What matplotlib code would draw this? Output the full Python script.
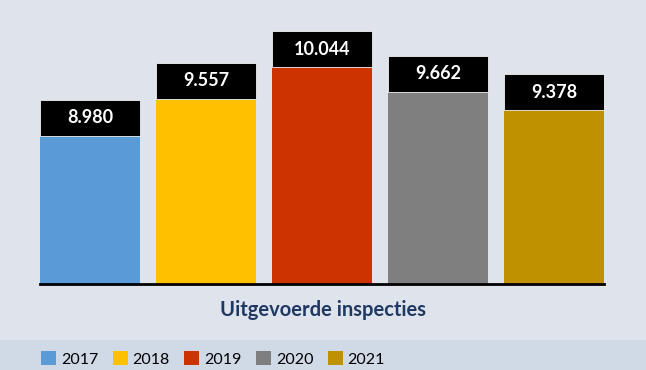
import matplotlib.pyplot as plt
from matplotlib.patches import Rectangle, Patch
import numpy as np

years = ['2017', '2018', '2019', '2020', '2021']
values = [8980, 9557, 10044, 9662, 9378]
labels = ['8.980', '9.557', '10.044', '9.662', '9.378']
colors = ['#5b9bd5', '#ffc000', '#cc3300', '#7f7f7f', '#bf9000']
title = 'Uitgevoerde inspecties'

bg = '#dfe3eb'
strip = '#d0d9e6'
fam = ['Lato', 'DejaVu Sans']

fig = plt.figure(figsize=(6.46, 3.70), dpi=100, facecolor=bg)
# legend strip at bottom
fig.patches.append(Rectangle((0, 0), 1, 30.5 / 370, transform=fig.transFigure,
                             facecolor=strip, edgecolor='none', zorder=0))

ax = fig.add_axes([40 / 646, 86 / 370, 564 / 646, 264 / 370])
ax.set_facecolor(bg)
ymin, ymax = 6675, 10781
ax.set_ylim(ymin, ymax)
ax.set_xlim(-0.43, 4.43)

x = np.arange(len(values))
ax.bar(x, np.array(values) - ymin, bottom=ymin, width=0.86, color=colors,
       edgecolor='none', zorder=2)

# black label boxes on top of bars, 36 px high
box_h = 36 * (ymax - ymin) / 264
ax.bar(x, box_h, bottom=values, width=0.86, color='black',
       edgecolor='#f2f2f2', linewidth=0.6, zorder=3)
for xi, v, lab in zip(x, values, labels):
    ax.text(xi, v + box_h / 2, lab, ha='center', va='center', color='white',
            fontsize=13, fontweight='bold', family=fam, zorder=4)

for s in ['top', 'right', 'left']:
    ax.spines[s].set_visible(False)
ax.spines['bottom'].set_linewidth(2)
ax.spines['bottom'].set_color('black')
ax.spines['bottom'].set_zorder(5)
ax.set_xticks([])
ax.set_yticks([])

fig.text(0.5, (370 - 310) / 370, title, ha='center', va='center',
         color='#1f3864', fontsize=14.5, fontweight='bold', family=fam)

handles = [Patch(facecolor=c, edgecolor='none') for c in colors]
fig.legend(handles, years, loc='center left', bbox_to_anchor=(41 / 646, 11 / 370),
           ncol=5, frameon=False, handlelength=0.95, handleheight=0.95,
           handletextpad=0.3, columnspacing=0.9, borderpad=0, borderaxespad=0,
           prop={'family': fam, 'size': 11.5})

fig.savefig('out.png', dpi=100, facecolor=bg)
